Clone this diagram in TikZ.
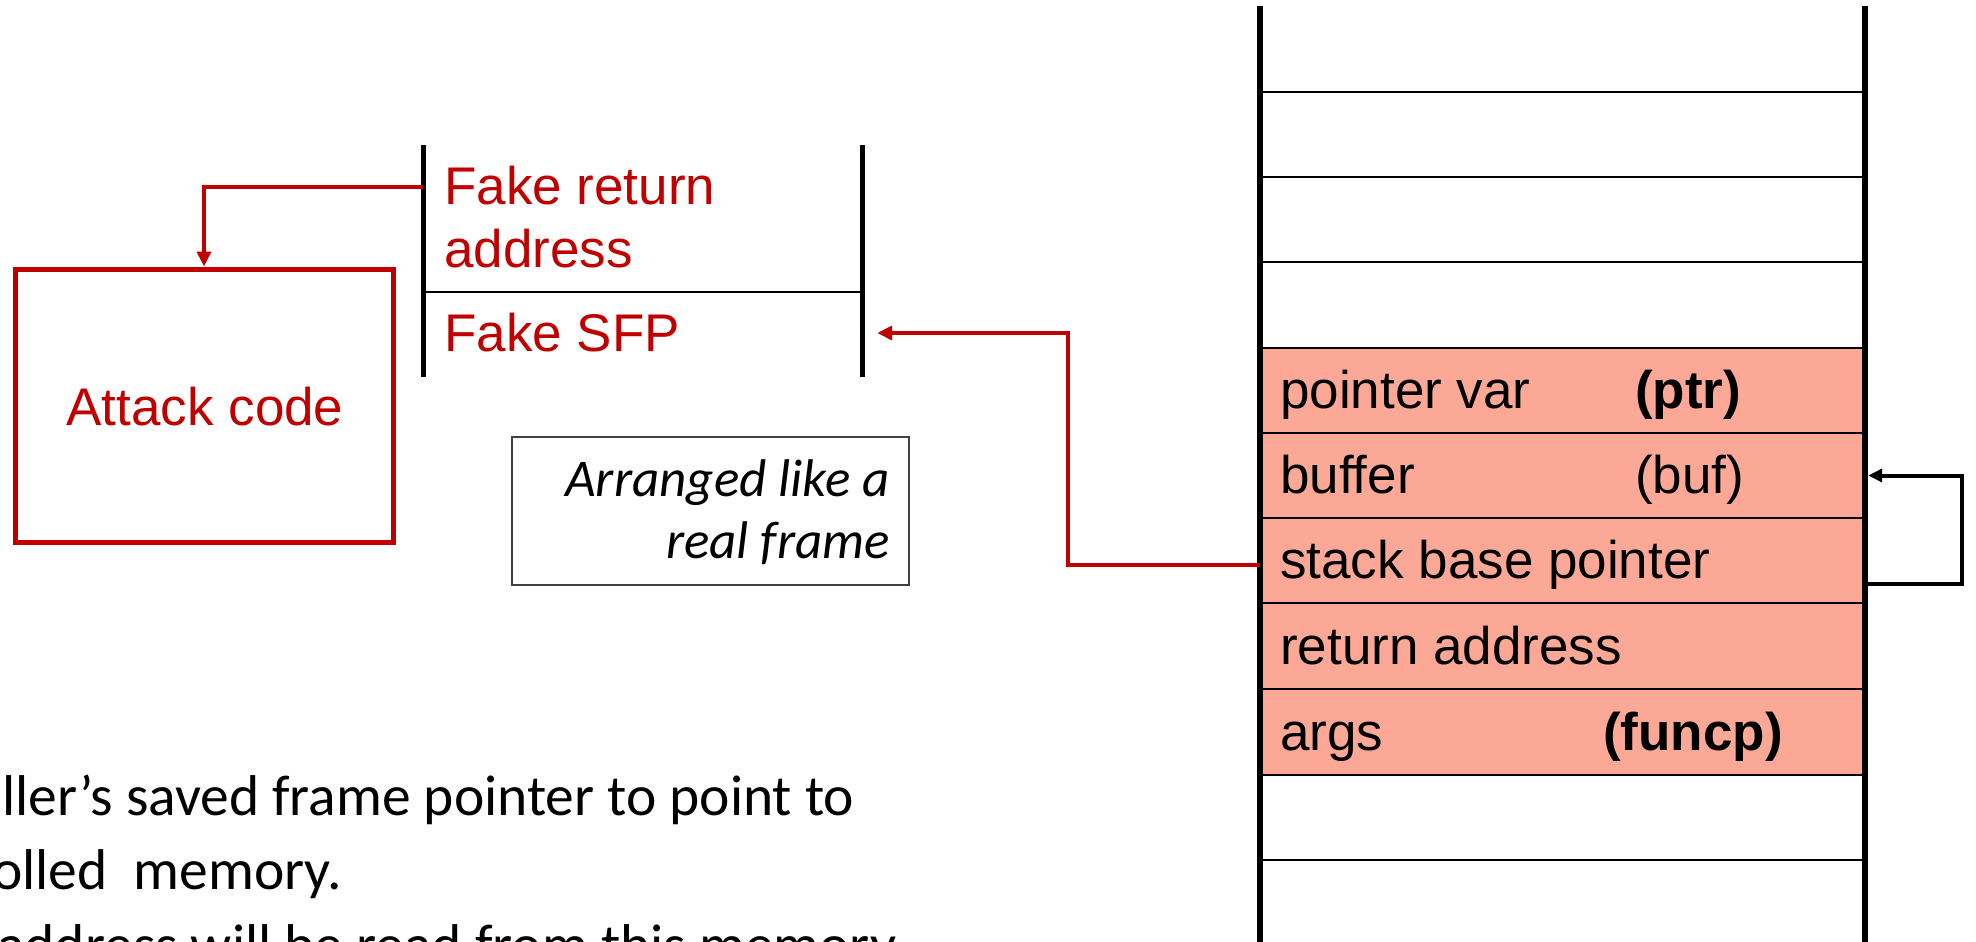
\documentclass[tikz,border=0pt]{standalone}
\usepackage{fontspec}
\setmainfont{Liberation Sans}
\newfontfamily\calibri{Carlito}
\usetikzlibrary{arrows.meta,calc}
\definecolor{attackred}{RGB}{192,0,0}
\definecolor{framefill}{RGB}{251,168,150}
\definecolor{notegray}{RGB}{64,64,64}

\begin{document}
\begin{tikzpicture}[x=1pt,y=-1pt,
  cell/.style={rectangle,inner sep=0pt,minimum width=605pt,minimum height=85.3pt},
  fullcell/.style={cell,fill=framefill},
  fakecell/.style={rectangle,inner sep=0pt,minimum width=439pt},
  stacktxt/.style={anchor=base west,inner sep=0pt,font=\fontsize{53}{64}\selectfont},
  redtxt/.style={anchor=base west,inner sep=0pt,text=attackred,font=\fontsize{53}{64}\selectfont},
  notetxt/.style={anchor=base east,inner sep=0pt,font=\calibri\itshape\fontsize{53}{62}\selectfont},
  bodytxt/.style={anchor=base west,inner sep=0pt,font=\calibri\fontsize{57.5}{74}\selectfont},
  rowline/.style={line width=2.5pt},
  wall/.style={line width=6pt},
  fakewall/.style={line width=5pt},
  redarrow/.style={draw=attackred,line width=4pt,-{Triangle[length=15pt,width=14pt]}},
  blackarrow/.style={draw=black,line width=4pt,-{Triangle[length=14pt,width=13pt]}},
]
\useasboundingbox (0,0) rectangle (1976,942);
\clip (0,0) rectangle (1976,942);

% ---------------- stack ----------------
\node[fullcell] (ptr)  at (1562.5,390.5) {};
\node[fullcell] (buf)  at (1562.5,475.5) {};
\node[fullcell] (sbp)  at (1562.5,560.5) {};
\node[fullcell] (ret)  at (1562.5,646) {};
\node[fullcell] (args) at (1562.5,732) {};

\foreach \yy in {92,177,262,348,433,518,603,689,775,860}
  \draw[rowline] (1260,\yy) -- (1865,\yy);
\draw[wall] (1260,6) -- (1260,942);
\draw[wall] (1865,6) -- (1865,942);

\node[stacktxt] (ptrA)  at (1280,408) {pointer var};
\node[stacktxt] (ptrB)  at (1635,408) {\bfseries (ptr)};
\node[stacktxt] (bufA)  at (1280,493) {buffer};
\node[stacktxt] (bufB)  at (1635,493) {(buf)};
\node[stacktxt] (sbpA)  at (1280,578) {stack base pointer};
\node[stacktxt] (retA)  at (1280,664) {return address};
\node[stacktxt] (argsA) at (1280,750) {args};
\node[stacktxt] (argsB) at (1603,750) {\bfseries (funcp)};

% ---------------- fake frame ----------------
\node[fakecell,minimum height=147pt] (fra) at (642.5,218.5) {};
\node[fakecell,minimum height=85pt]  (sfp) at (642.5,334.5) {};
\draw[fakewall] (423,145) -- (423,377);
\draw[fakewall] (862,145) -- (862,377);
\draw[rowline] (423,292) -- (862,292);

\node[redtxt] (fraA) at (444,204) {Fake return};
\node[redtxt] (fraB) at (444,267) {address};
\node[redtxt] (sfpA) at (444,351) {Fake SFP};

% ---------------- attack code ----------------
\node[draw=attackred,line width=5pt,rectangle,inner sep=0pt,
      minimum width=378pt,minimum height=273pt] (attack) at (204,405.5) {};
\node[anchor=base,inner sep=0pt,text=attackred,font=\fontsize{53}{64}\selectfont]
      (attackT) at (205,425) {Attack code};

% ---------------- note ----------------
\node[draw=notegray,line width=2pt,rectangle,inner sep=0pt,
      minimum width=397pt,minimum height=148pt] (note) at (710.5,511) {};
\node[notetxt] (noteA) at (890,496) {Arranged like a};
\node[notetxt] (noteB) at (890,558) {real frame};

% ---------------- connectors ----------------
\coordinate (fraL) at (423,187);
\draw[redarrow] (fraL) -| (attack.north);

\coordinate (sbpL) at ($(sbp.west)+(0,4.5)$);
\coordinate (sfpR) at ($(sfp.east)+(15,-1.5)$);
\draw[redarrow] (sbpL) -- (1068,565) |- (sfpR);

\coordinate (sbpR) at ($(sbp.east)+(0,23.5)$);
\coordinate (bufR) at ($(buf.east)+(3,0)$);
\draw[blackarrow] (sbpR) -- (1962,584) |- (bufR);

% ---------------- body text ----------------
\node[bodytxt] (line1) at (2,815)  {ller’s saved frame pointer to point to};
\node[bodytxt] (line2) at (-8,889) {olled\ \ memory.};
\node[bodytxt] (line3) at (-3,964) {address will be read from this memory.};
\end{tikzpicture}
\end{document}
